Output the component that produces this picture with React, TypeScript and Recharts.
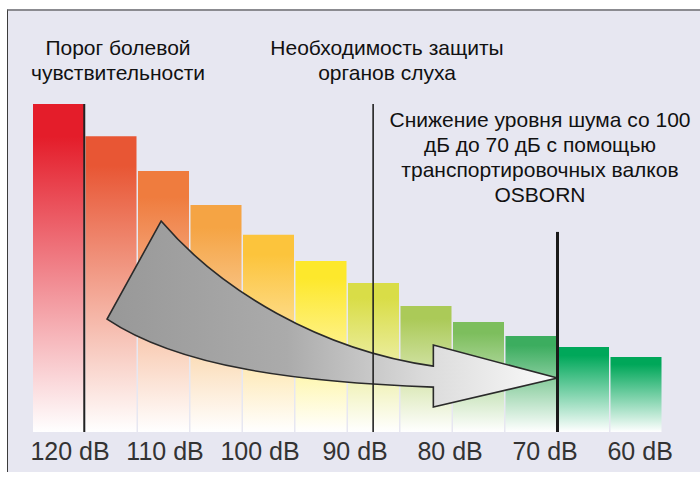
import { BarChart, Bar, XAxis, YAxis, Cell, ScatterChart, Scatter, ReferenceLine, ReferenceArea } from "recharts";

// 12 bars, loudest on the left
const BAR_IDS = ["b1", "b2", "b3", "b4", "b5", "b6", "b7", "b8", "b9", "b10", "b11", "b12"];
const BAR_VALUES = [100, 90.2, 79.6, 69.2, 60.1, 52.1, 45.4, 38.4, 33.5, 29.3, 25.9, 22.9];
const BAR_COLORS = [
  "#e41d2a", "#e85634", "#ef7c3e", "#f5a444", "#fcc43c", "#fde82c",
  "#d9dd47", "#abca58", "#7dbe5d", "#3cad5f", "#00a85a", "#00a759",
];

// dB scale under the bars
const DB_TICKS = [120, 110, 100, 90, 80, 70, 60];
const DB_DOMAIN: [number, number] = [57.7, 124];
const PAIN_DB = 118.5;
const PROTECT_DB = 88.1;
const TARGET_DB = 68.7;
const TARGET_TOP = 61;
const ARROW_FROM_DB = 116.1;
const ARROW_Y: [number, number] = [7.6, 64.3];

const data = BAR_IDS.map((id, i) => ({ id, value: BAR_VALUES[i] }));
const markers = [
  { db: PAIN_DB, top: 100 },
  { db: PROTECT_DB, top: 100 },
  { db: TARGET_DB, top: TARGET_TOP },
];

const FONT = "'Liberation Sans', Arial, Helvetica, sans-serif";
const MARGIN = { top: 104, right: 38, left: 32 };

// arrow outline, as fractions of its reference box
const ARROW_PTS = {
  a: [0.12, 0], c1: [0.2511, 0.371], c2: [0.4733, 0.6935], b: [0.7244, 0.7796],
  h1: [0.7244, 0.6667], t: [1, 0.8441], h2: [0.7244, 1], d: [0.7244, 0.8925],
  c3: [0.4289, 0.8656], c4: [0.1622, 0.7903], e: [0, 0.5269],
};

const ArrowShape = (props: any) => {
  const { x, y, width, height } = props;
  const p = (k: keyof typeof ARROW_PTS) => {
    const [u, v] = ARROW_PTS[k];
    return `${x + u * width},${y + v * height}`;
  };
  const d = `M${p("a")} C${p("c1")} ${p("c2")} ${p("b")} L${p("h1")} L${p("t")} L${p("h2")} L${p("d")} C${p("c3")} ${p("c4")} ${p("e")} Z`;
  return (
    <g>
      <defs>
        <linearGradient id="arrowFill" x1="0" y1="0" x2="1" y2="0">
          <stop offset="0" stopColor="#989898" />
          <stop offset="0.4" stopColor="#ababab" />
          <stop offset="0.7" stopColor="#dadada" />
          <stop offset="1" stopColor="#fbfbfb" />
        </linearGradient>
      </defs>
      <path d={d} fill="url(#arrowFill)" stroke="#2a2a2a" strokeWidth={1.6} strokeLinejoin="miter" />
    </g>
  );
};

const DbTick = (props: any) => {
  const { x, y, payload } = props;
  return (
    <text x={x} y={y + 28} textAnchor="middle" fill="#333" fontSize={25} fontFamily={FONT}>
      {`${payload.value} dB`}
    </text>
  );
};

const titleStyle = (left: number, top: number, width: number): React.CSSProperties => ({
  position: "absolute",
  left,
  top,
  width,
  textAlign: "center",
  fontFamily: FONT,
  fontSize: 21,
  lineHeight: "25px",
  color: "#111",
  whiteSpace: "nowrap",
});

const layer: React.CSSProperties = { position: "absolute", left: 0, top: 0 };

export default function App() {
  return (
    <div style={{ position: "relative", width: 700, height: 477, background: "#fff", overflow: "hidden" }}>
      <style>{"body{margin:0}"}</style>
      <div
        style={{
          position: "absolute",
          left: 7,
          top: 9,
          right: 0,
          bottom: 5,
          background: "#e7e7f1",
          borderTop: "2px solid #8b8b90",
          borderLeft: "1px solid #3c3c3c",
        }}
      />
      <div style={layer}>
        <BarChart width={700} height={477} data={data} margin={{ ...MARGIN, bottom: 45 }} barCategoryGap={1}>
          <defs>
            {BAR_COLORS.map((c, i) => (
              <linearGradient key={i} id={`bar${i}`} x1="0" y1="0" x2="0" y2="1">
                <stop offset="0" stopColor={c} />
                <stop offset="0.1" stopColor={c} />
                <stop offset="1" stopColor="#ffffff" />
              </linearGradient>
            ))}
          </defs>
          <XAxis dataKey="id" hide />
          <YAxis hide domain={[0, 100]} allowDataOverflow />
          <Bar dataKey="value" isAnimationActive={false}>
            {data.map((_, i) => (
              <Cell key={i} fill={`url(#bar${i})`} />
            ))}
          </Bar>
        </BarChart>
      </div>
      <div style={layer}>
        <ScatterChart width={700} height={477} margin={{ ...MARGIN, bottom: 5 }}>
          <XAxis
            dataKey="db"
            type="number"
            domain={DB_DOMAIN}
            reversed
            allowDataOverflow
            ticks={DB_TICKS}
            interval={0}
            tickLine={false}
            axisLine={false}
            tickSize={0}
            tickMargin={0}
            height={40}
            tick={<DbTick />}
          />
          <YAxis dataKey="top" type="number" hide domain={[0, 100]} allowDataOverflow />
          <Scatter data={markers} shape={() => <g />} isAnimationActive={false} />
          <ReferenceArea
            x1={ARROW_FROM_DB}
            x2={TARGET_DB}
            y1={ARROW_Y[0]}
            y2={ARROW_Y[1]}
            shape={<ArrowShape />}
          />
          <ReferenceLine x={PAIN_DB} stroke="#222" strokeWidth={2} />
          <ReferenceLine x={PROTECT_DB} stroke="#222" strokeWidth={1.6} />
          <ReferenceLine
            segment={[{ x: TARGET_DB, y: 0 }, { x: TARGET_DB, y: TARGET_TOP }]}
            stroke="#1a1a1a"
            strokeWidth={3}
          />
        </ScatterChart>
      </div>
      <div style={titleStyle(18, 35, 200)}>
        Порог болевой
        <br />
        чувствительности
      </div>
      <div style={titleStyle(267, 35, 240)}>
        Необходимость защиты
        <br />
        органов слуха
      </div>
      <div style={titleStyle(380, 107, 320)}>
        Снижение уровня шума со 100
        <br />
        дБ до 70 дБ с помощью
        <br />
        транспортировочных валков
        <br />
        OSBORN
      </div>
    </div>
  );
}
